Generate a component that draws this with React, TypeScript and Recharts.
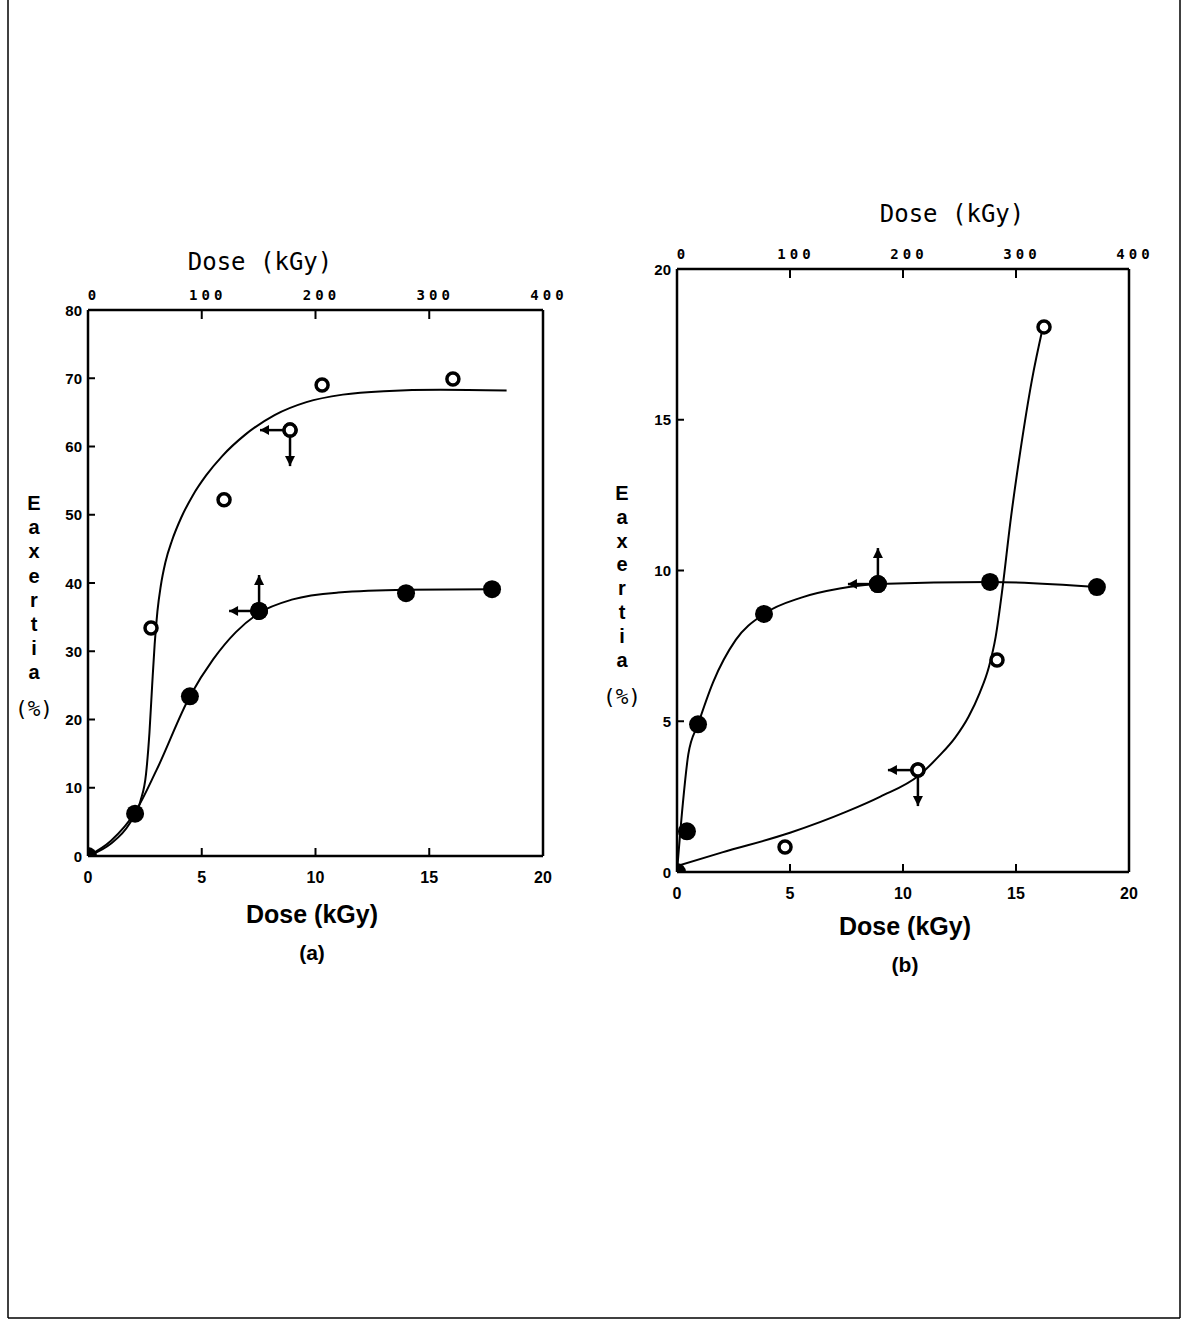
import React from 'react';
import { ComposedChart, Line, Scatter, XAxis, YAxis, ReferenceLine } from 'recharts';

// ---------- shared axis ticks ----------
const doseTicks = [0, 5, 10, 15, 20];
const doseTopTicks = [0, 100, 200, 300, 400];
const yTicksA = [0, 10, 20, 30, 40, 50, 60, 70, 80];
const yTicksB = [0, 5, 10, 15, 20];
const yLetters = ['E', 'a', 'x', 'e', 'r', 't', 'i', 'a'];

// ---------- panel (a) ----------
const openPtsA = [
  { x: 2.77, y: 33.4 },
  { x: 5.98, y: 52.2 },
  { x: 8.88, y: 62.4 },
  { x: 10.29, y: 69.0 },
  { x: 16.04, y: 69.9 },
];
const filledPtsA = [
  { x: 0, y: 0 },
  { x: 2.07, y: 6.2 },
  { x: 4.48, y: 23.4 },
  { x: 7.52, y: 35.9 },
  { x: 13.98, y: 38.5 },
  { x: 17.76, y: 39.1 },
];
const openCurveA = [
  { x: 0, y: 0 },
  { x: 1, y: 1.8 },
  { x: 1.8, y: 4.6 },
  { x: 2.3, y: 8 },
  { x: 2.55, y: 12 },
  { x: 2.7, y: 18 },
  { x: 2.82, y: 25 },
  { x: 2.93, y: 31 },
  { x: 3.05, y: 35.8 },
  { x: 3.2, y: 39.6 },
  { x: 3.4, y: 43 },
  { x: 3.7, y: 46.3 },
  { x: 4.1, y: 49.6 },
  { x: 4.6, y: 52.8 },
  { x: 5.2, y: 55.8 },
  { x: 5.9, y: 58.6 },
  { x: 6.9, y: 61.7 },
  { x: 8.2, y: 64.6 },
  { x: 9.6, y: 66.5 },
  { x: 11.2, y: 67.6 },
  { x: 13, y: 68.1 },
  { x: 15.5, y: 68.3 },
  { x: 18.4, y: 68.2 },
];
const filledCurveA = [
  { x: 0, y: 0 },
  { x: 1, y: 2.2 },
  { x: 2.07, y: 6.4 },
  { x: 3, y: 12.5 },
  { x: 4.48, y: 23.4 },
  { x: 5.5, y: 28.8 },
  { x: 6.5, y: 32.8 },
  { x: 7.52, y: 35.6 },
  { x: 9, y: 37.6 },
  { x: 11, y: 38.6 },
  { x: 13.98, y: 39.0 },
  { x: 17.76, y: 39.1 },
];
const arrowsA = [
  { x: 8.88, y: 62.4, dirs: ['left', 'down'], filled: false },
  { x: 7.52, y: 35.9, dirs: ['left', 'up'], filled: true },
];

// ---------- panel (b) ----------
const openPtsB = [
  { x: 4.78, y: 0.83 },
  { x: 10.66, y: 3.38 },
  { x: 14.16, y: 7.03 },
  { x: 16.24, y: 18.08 },
];
const filledPtsB = [
  { x: 0, y: 0 },
  { x: 0.44, y: 1.35 },
  { x: 0.93, y: 4.9 },
  { x: 3.85, y: 8.56 },
  { x: 8.89, y: 9.55 },
  { x: 13.85, y: 9.62 },
  { x: 18.58, y: 9.45 },
];
const openCurveB = [
  { x: 0, y: 0.2 },
  { x: 2, y: 0.65 },
  { x: 5, y: 1.3 },
  { x: 7.5, y: 2.0 },
  { x: 9, y: 2.5 },
  { x: 10.7, y: 3.2 },
  { x: 11.6, y: 3.85 },
  { x: 12.3, y: 4.45 },
  { x: 12.9, y: 5.15 },
  { x: 13.4, y: 5.95 },
  { x: 13.8, y: 6.8 },
  { x: 14.1, y: 7.8 },
  { x: 14.4, y: 9.4 },
  { x: 14.75, y: 11.6 },
  { x: 15.2, y: 14.0 },
  { x: 15.7, y: 16.3 },
  { x: 16.2, y: 18.1 },
];
const filledCurveB = [
  { x: 0, y: 0 },
  { x: 0.25, y: 2.2 },
  { x: 0.5, y: 3.9 },
  { x: 0.93, y: 4.9 },
  { x: 1.6, y: 6.3 },
  { x: 2.6, y: 7.7 },
  { x: 3.85, y: 8.56 },
  { x: 5.5, y: 9.1 },
  { x: 7.2, y: 9.4 },
  { x: 8.89, y: 9.55 },
  { x: 13.85, y: 9.62 },
  { x: 18.58, y: 9.45 },
];
const arrowsB = [
  { x: 8.89, y: 9.55, dirs: ['left', 'up'], filled: true },
  { x: 10.66, y: 3.38, dirs: ['left', 'down'], filled: false },
];

// ---------- drawing helpers ----------
const INK = '#000';
const BOLD = '"Liberation Sans", Arial, sans-serif';
const MONO = '"DejaVu Sans Mono", monospace';

const LeftTick = (props: any) => {
  const { x, y, payload } = props;
  return (
    <g>
      <line x1={x} x2={x + 7} y1={y} y2={y} stroke={INK} strokeWidth={2} />
      <text x={x - 6} y={y} textAnchor="end" dominantBaseline="central" fontFamily={BOLD} fontWeight={900} fontSize={15} fill={INK}>
        {payload.value}
      </text>
    </g>
  );
};

const BottomTick = (props: any) => {
  const { x, y, payload } = props;
  return (
    <g>
      {payload.value !== 0 && payload.value !== 20 && (
        <line x1={x} x2={x} y1={y} y2={y - 8} stroke={INK} strokeWidth={2} />
      )}
      <text x={x} y={y + 27} textAnchor="middle" fontFamily={BOLD} fontWeight={900} fontSize={16} fill={INK}>
        {payload.value}
      </text>
    </g>
  );
};

const TopTick = (props: any) => {
  const { x, y, payload } = props;
  return (
    <g>
      {payload.value !== 0 && payload.value !== 400 && (
        <line x1={x} x2={x} y1={y} y2={y + 9} stroke={INK} strokeWidth={2} />
      )}
      <text x={x + 6} y={y - 10} textAnchor="middle" fontFamily={MONO} fontWeight={700} fontSize={14} letterSpacing={4} fill={INK}>
        {payload.value}
      </text>
    </g>
  );
};

const OpenDot = (props: any) => {
  const { cx, cy } = props;
  if (cx == null || cy == null) return null;
  return <circle cx={cx} cy={cy} r={6} fill="#fff" stroke={INK} strokeWidth={3.5} />;
};
const FilledDot = (props: any) => {
  const { cx, cy } = props;
  if (cx == null || cy == null) return null;
  return <circle cx={cx} cy={cy} r={9} fill={INK} />;
};

const ArrowMark = (props: any) => {
  const { cx, cy, payload } = props;
  if (cx == null || cy == null) return null;
  const dirs: string[] = payload.dirs || [];
  const len = 30;
  const parts: any[] = [];
  dirs.forEach((d, i) => {
    let x2 = cx;
    let y2 = cy;
    let head = '';
    if (d === 'left') {
      x2 = cx - len;
      head = `M${x2},${cy} L${x2 + 9},${cy - 5} L${x2 + 9},${cy + 5} Z`;
    } else if (d === 'up') {
      y2 = cy - len - 6;
      head = `M${cx},${y2} L${cx - 5},${y2 + 10} L${cx + 5},${y2 + 10} Z`;
    } else if (d === 'down') {
      y2 = cy + len + 6;
      head = `M${cx},${y2} L${cx - 5},${y2 - 10} L${cx + 5},${y2 - 10} Z`;
    }
    parts.push(<line key={'l' + i} x1={cx} y1={cy} x2={x2} y2={y2} stroke={INK} strokeWidth={2.5} />);
    parts.push(<path key={'h' + i} d={head} fill={INK} />);
  });
  return (
    <g>
      {parts}
      {payload.filled ? (
        <circle cx={cx} cy={cy} r={9} fill={INK} />
      ) : (
        <circle cx={cx} cy={cy} r={6} fill="#fff" stroke={INK} strokeWidth={3.5} />
      )}
    </g>
  );
};

type PanelProps = {
  width: number;
  height: number;
  margin: any;
  yMax: number;
  yTicks: number[];
  openCurve: any[];
  filledCurve: any[];
  openPts: any[];
  filledPts: any[];
  arrows: any[];
};

const Panel = (p: PanelProps) => (
  <ComposedChart width={p.width} height={p.height} margin={p.margin}>
    <XAxis
      dataKey="x"
      type="number"
      domain={[0, 20]}
      ticks={doseTicks}
      allowDataOverflow
      height={40}
      tickLine={false}
      tickSize={0}
      tickMargin={0}
      axisLine={{ stroke: INK, strokeWidth: 2.5 }}
      tick={<BottomTick />}
      interval={0}
    />
    <XAxis
      xAxisId="top"
      orientation="top"
      dataKey="x"
      type="number"
      domain={[0, 400]}
      ticks={doseTopTicks}
      allowDataOverflow
      height={40}
      tickLine={false}
      tickSize={0}
      tickMargin={0}
      axisLine={{ stroke: INK, strokeWidth: 2.5 }}
      tick={<TopTick />}
      interval={0}
    />
    <YAxis
      dataKey="y"
      type="number"
      domain={[0, p.yMax]}
      ticks={p.yTicks}
      allowDataOverflow
      width={50}
      tickLine={false}
      tickSize={0}
      tickMargin={0}
      axisLine={{ stroke: INK, strokeWidth: 2.5 }}
      tick={<LeftTick />}
      interval={0}
    />
    <ReferenceLine x={20} stroke={INK} strokeWidth={2.5} ifOverflow="visible" />
    <Line data={p.openCurve} dataKey="y" type="monotone" stroke={INK} strokeWidth={2} dot={false} isAnimationActive={false} />
    <Line data={p.filledCurve} dataKey="y" type="monotone" stroke={INK} strokeWidth={2} dot={false} isAnimationActive={false} />
    <Scatter data={p.openPts} dataKey="y" shape={<OpenDot />} isAnimationActive={false} />
    <Scatter data={p.filledPts} dataKey="y" shape={<FilledDot />} isAnimationActive={false} />
    <Scatter data={p.arrows} dataKey="y" shape={<ArrowMark />} isAnimationActive={false} />
  </ComposedChart>
);

const abs = (left: number, top: number, extra: any = {}) => ({
  position: 'absolute' as const,
  left,
  top,
  ...extra,
});

const Centered = ({ x, y, children, style }: any) => (
  <div style={abs(x - 150, y, { width: 300, textAlign: 'center', lineHeight: 1, whiteSpace: 'pre', ...style })}>{children}</div>
);

const VerticalLabel = ({ x, y0, step, paren, parenY }: any) => (
  <>
    {yLetters.map((ch, i) => (
      <div
        key={i}
        style={abs(x - 12, y0 + i * step - 10, {
          width: 24,
          textAlign: 'center',
          fontFamily: BOLD,
          fontWeight: 900,
          fontSize: 20,
          lineHeight: '20px',
        })}
      >
        {ch}
      </div>
    ))}
    <div style={abs(x - 30, parenY - 12, { width: 60, textAlign: 'center', fontFamily: MONO, fontSize: 21, lineHeight: '24px' })}>
      {paren}
    </div>
  </>
);

export default function App() {
  return (
    <div style={{ position: 'absolute', left: 0, top: 0, width: 1184, height: 1322, background: '#fff', color: INK }}>
      <svg width={1184} height={1322} style={{ position: 'absolute', left: 0, top: 0 }}>
        <line x1={8} y1={0} x2={8} y2={1318} stroke={INK} strokeWidth={1.5} />
        <line x1={1180} y1={0} x2={1180} y2={1318} stroke={INK} strokeWidth={1.5} />
        <line x1={8} y1={1318} x2={1180} y2={1318} stroke={INK} strokeWidth={1.5} />
      </svg>

      {/* panel (a): plot area x 88..543, y 310..856 */}
      <div style={abs(0, 240)}>
        <Panel
          width={580}
          height={700}
          margin={{ top: 30, right: 37, bottom: 44, left: 38 }}
          yMax={80}
          yTicks={yTicksA}
          openCurve={openCurveA}
          filledCurve={filledCurveA}
          openPts={openPtsA}
          filledPts={filledPtsA}
          arrows={arrowsA}
        />
      </div>
      <Centered x={260} y={250} style={{ fontFamily: MONO, fontSize: 24 }}>Dose (kGy)</Centered>
      <Centered x={312} y={902} style={{ fontFamily: BOLD, fontWeight: 900, fontSize: 25 }}>Dose (kGy)</Centered>
      <Centered x={312} y={942} style={{ fontFamily: BOLD, fontWeight: 900, fontSize: 21 }}>(a)</Centered>
      <VerticalLabel x={34} y0={503} step={24.2} paren="(%)" parenY={709} />

      {/* panel (b): plot area x 677..1129, y 269..872 */}
      <div style={abs(600, 200)}>
        <Panel
          width={560}
          height={740}
          margin={{ top: 29, right: 31, bottom: 28, left: 27 }}
          yMax={20}
          yTicks={yTicksB}
          openCurve={openCurveB}
          filledCurve={filledCurveB}
          openPts={openPtsB}
          filledPts={filledPtsB}
          arrows={arrowsB}
        />
      </div>
      <Centered x={952} y={202} style={{ fontFamily: MONO, fontSize: 24 }}>Dose (kGy)</Centered>
      <Centered x={905} y={914} style={{ fontFamily: BOLD, fontWeight: 900, fontSize: 25 }}>Dose (kGy)</Centered>
      <Centered x={905} y={954} style={{ fontFamily: BOLD, fontWeight: 900, fontSize: 21 }}>(b)</Centered>
      <VerticalLabel x={622} y0={493} step={23.8} paren="(%)" parenY={697} />
    </div>
  );
}
